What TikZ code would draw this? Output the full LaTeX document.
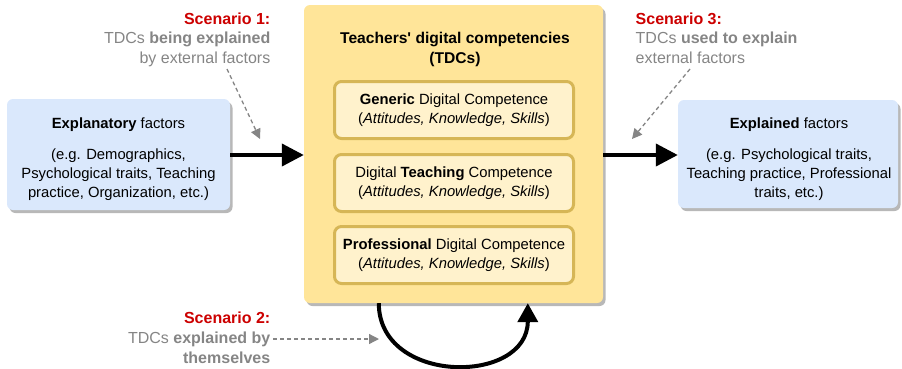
\documentclass[tikz,border=0pt]{standalone}
\usepackage{fontspec}
\setmainfont{Liberation Sans}
\usetikzlibrary{arrows.meta,calc}

\definecolor{factorblue}{HTML}{DAE8FC}
\definecolor{tdcyellow}{HTML}{FFE599}
\definecolor{compfill}{HTML}{FFF2CC}
\definecolor{compline}{HTML}{D6B656}
\definecolor{shadowgray}{HTML}{B8B8B8}
\definecolor{scenred}{HTML}{CC0000}
\definecolor{notegray}{HTML}{858585}

\tikzset{
  body/.style={font=\fontsize{14.8}{19}\selectfont, align=center, inner sep=0pt},
  shadowed/.style={preaction={draw=none, fill=shadowgray,
      transform canvas={xshift=2.5pt, yshift=-3pt}}},
  factorbox/.style={body, shadowed, fill=factorblue, rounded corners=6pt},
  tdcbox/.style={shadowed, fill=tdcyellow, rounded corners=6pt, inner sep=0pt},
  compbox/.style={body, fill=compfill, draw=compline, line width=3pt,
      rounded corners=7pt, minimum width=239pt, minimum height=57pt},
  scenario/.style={font=\fontsize{16}{19.6}\selectfont, text=notegray, inner sep=0pt},
  flow/.style={line width=4pt, -{Triangle[length=22pt, width=22pt]}},
  note/.style={draw=notegray, line width=1.3pt, dash pattern=on 4pt off 3pt,
      -{Triangle[length=10pt, width=10pt]}},
}

\begin{document}
\begin{tikzpicture}[x=1pt, y=-1pt]
  \useasboundingbox (0,0) rectangle (902,368);

  % outer competency block
  \node[tdcbox, minimum width=299pt, minimum height=298pt] (tdc) at (453.5,154) {};
  \node[font=\fontsize{15.6}{20}\selectfont\bfseries, align=center, inner sep=0pt]
    (title) at (455,49) {Teachers\textquotesingle{} digital competencies\\(TDCs)};

  % the three competence areas
  \node[compbox] (generic) at (454,110)
    {\textbf{Generic} Digital Competence\\(\textit{Attitudes, Knowledge, Skills})};
  \node[compbox] (teaching) at (454,183)
    {Digital \textbf{Teaching} Competence\\(\textit{Attitudes, Knowledge, Skills})};
  \node[compbox] (prof) at (454,255)
    {\textbf{Professional} Digital Competence\\(\textit{Attitudes, Knowledge, Skills})};

  % factor boxes
  \node[factorbox, minimum width=223pt, minimum height=111pt] (explanatory) at (118.5,154.5) {};
  \node[body] (explanatorytext) at (118.5,159.5)
    {\textbf{Explanatory} factors\\[12pt](e.g. Demographics,\\Psychological traits, Teaching\\practice, Organization, etc.)};

  \node[factorbox, minimum width=220pt, minimum height=108pt] (explained) at (788,154) {};
  \node[body] (explainedtext) at (789,159.5)
    {\textbf{Explained} factors\\[12pt](e.g. Psychological traits,\\Teaching practice, Professional\\traits, etc.)};

  % main flow
  \draw[flow] (explanatory.east |- 0,155) -- (tdc.west |- 0,155);
  \draw[flow] (tdc.east |- 0,155) -- (explained.west |- 0,155);

  % feedback loop below the block
  \coordinate (loopstart) at ($(tdc.south west)+(75,0)$);
  \coordinate (loopend) at ($(tdc.south west)+(224,0)$);
  \draw[line width=4pt, -{Triangle[length=19pt, width=20pt]}]
    (loopstart) .. controls ($(loopstart)+(0,82)$) and ($(loopend)+(0,82)$) .. (loopend);

  % scenario notes (base anchor sits on the last line)
  \node[scenario, align=right, anchor=base east] (scen1) at (270.5,63.5)
    {\textcolor{scenred}{\bfseries Scenario 1:}\\TDCs \textbf{being explained}\\by external factors};
  \node[scenario, align=left, anchor=base west] (scen3) at (635.5,63.5)
    {\textcolor{scenred}{\bfseries Scenario 3:}\\TDCs \textbf{used to explain}\\external factors};
  \node[scenario, align=right, anchor=base east] (scen2) at (270.5,363)
    {\textcolor{scenred}{\bfseries Scenario 2:}\\TDCs \textbf{explained by}\\\textbf{themselves}};

  % dashed pointers
  \coordinate (s1tail) at (227,69);
  \coordinate (s1head) at (260,139);
  \coordinate (s3tail) at (690,69);
  \coordinate (s3head) at (632,139);
  \coordinate (s2tail) at (273,339);
  \coordinate (s2head) at (379,339);
  \draw[note] (s1tail) -- (s1head);
  \draw[note] (s3tail) -- (s3head);
  \draw[note] (s2tail) -- (s2head);
\end{tikzpicture}
\end{document}
